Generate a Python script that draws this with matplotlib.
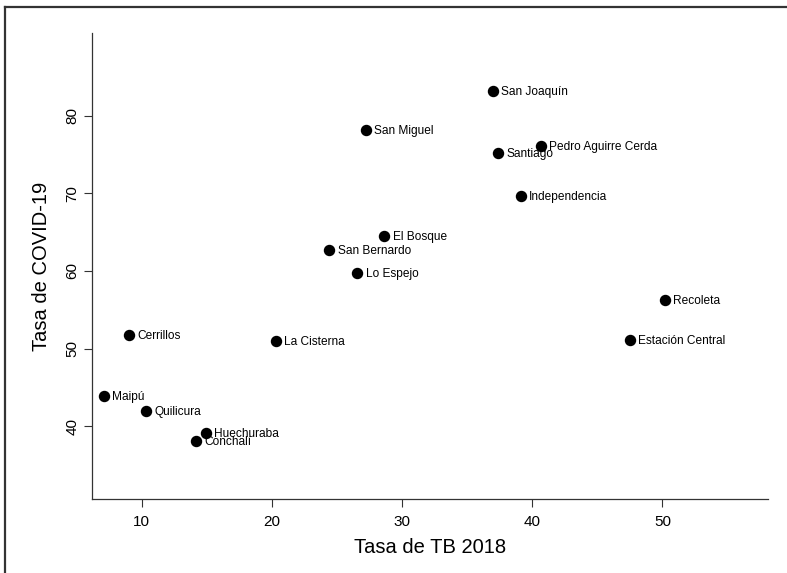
import matplotlib.pyplot as plt
from matplotlib.lines import Line2D

plt.rcParams['font.family'] = ['Liberation Sans', 'DejaVu Sans']

comunas = ["San Joaquín", "San Miguel", "Pedro Aguirre Cerda", "Santiago",
           "Independencia", "El Bosque", "San Bernardo", "Lo Espejo",
           "La Cisterna", "Recoleta", "Estación Central", "Cerrillos",
           "Maipú", "Quilicura", "Huechuraba", "Conchalí"]
tasa_tb = [36.99, 27.21, 40.68, 37.40, 39.12, 28.64, 24.41, 26.57,
           20.30, 50.21, 47.52, 9.02, 7.10, 10.33, 14.92, 14.15]
tasa_covid = [83.19, 78.15, 76.13, 75.15, 69.64, 64.52, 62.67, 59.74,
              50.95, 56.22, 51.06, 51.70, 43.87, 41.90, 39.10, 38.03]

fig = plt.figure(figsize=(7.87, 5.73), dpi=100)
ax = fig.add_axes([0.1165, 0.1283, 0.9763 - 0.1165, 0.9419 - 0.1283])

ax.scatter(tasa_tb, tasa_covid, s=52, color="black", zorder=3)
for name, x, y in zip(comunas, tasa_tb, tasa_covid):
    ax.annotate(name, (x, y), xytext=(6, -0.6), textcoords="offset points",
                va="center", ha="left", fontsize=8.6)

ax.set_xlim(6.16, 58.14)
ax.set_ylim(30.54, 90.63)
ax.set_xticks([10, 20, 30, 40, 50])
ax.set_yticks([40, 50, 60, 70, 80])
ax.spines[["top", "right"]].set_visible(False)
for s in ["left", "bottom"]:
    ax.spines[s].set_linewidth(0.9)
    ax.spines[s].set_color("#333333")
ax.tick_params(length=6, width=0.8, color="#333333", labelsize=11)
ax.tick_params(axis="x", pad=5)
ax.tick_params(axis="y", pad=3)
plt.setp(ax.get_yticklabels(), rotation=90, va="center")

ax.set_xlabel("Tasa de TB 2018", fontsize=14.5, labelpad=7)
ax.set_ylabel("Tasa de COVID-19", fontsize=14.5, labelpad=10)

# outer frame (top and left edges visible in the screenshot)
fig.add_artist(Line2D([4.5 / 787, 1.0], [1 - 7.3 / 573, 1 - 7.3 / 573],
                      transform=fig.transFigure, color="#333333", lw=1.6))
fig.add_artist(Line2D([4.5 / 787, 4.5 / 787], [0.0, 1 - 7.3 / 573],
                      transform=fig.transFigure, color="#333333", lw=1.6))

fig.savefig("out.png", dpi=100)
